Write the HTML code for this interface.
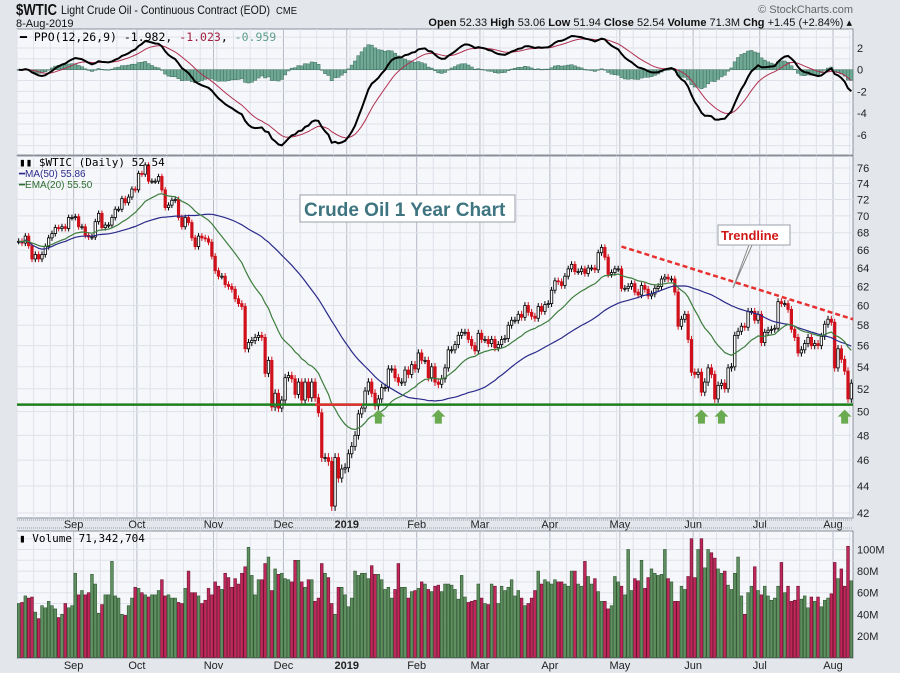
<!DOCTYPE html>
<html><head><meta charset="utf-8">
<style>
body{margin:0;background:#e3e6eb;font-family:"Liberation Sans",sans-serif;}
#wrap{position:relative;width:900px;height:673px;overflow:hidden;background:#e3e6eb;}
svg{position:absolute;left:0;top:0}
</style></head><body>
<div id="wrap">
<svg id="chart" width="900" height="673" xmlns="http://www.w3.org/2000/svg"></svg>
</div>
<script>
// ---- data ----
const closes=[67.0,66.8,67.6,66.5,65.0,65.5,65.0,65.5,66.4,67.4,67.9,68.6,68.5,68.7,68.5,69.8,69.8,
69.9,68.7,68.7,67.7,67.5,67.5,69.3,70.3,68.6,68.9,68.9,69.8,70.8,70.8,72.1,71.6,72.3,73.3,73.2,
75.3,75.2,76.4,74.3,74.3,74.3,74.9,73.2,71.0,71.3,71.9,72.0,69.8,68.7,69.8,69.2,67.4,66.4,67.6,67.4,67.3,66.9,65.3,
63.7,63.1,63.1,62.2,62.0,61.7,60.7,60.2,59.9,55.7,56.3,56.5,56.8,57.0,56.8,53.4,54.6,50.4,51.6,50.3,51.0,
53.0,53.2,52.9,51.5,52.6,51.0,52.6,51.2,52.6,51.2,49.9,46.2,46.2,45.9,42.5,46.2,44.6,45.3,45.4,
46.5,47.1,48.0,49.8,50.3,51.8,52.6,51.6,50.5,51.1,52.1,52.1,53.8,53.8,53.0,52.6,52.6,53.7,53.3,54.2,53.8,
55.3,54.6,54.6,53.0,54.0,52.6,52.4,52.9,53.9,55.6,55.6,56.1,57.0,57.3,57.3,56.6,56.0,55.5,57.2,
56.6,56.6,56.2,56.6,55.8,56.1,56.6,56.7,58.0,58.5,58.5,59.1,58.8,60.0,59.3,58.9,58.7,59.9,59.4,60.1,60.2,
61.6,62.6,62.5,62.1,63.1,63.9,64.4,63.6,63.6,63.9,63.4,64.0,64.0,63.8,65.7,66.3,65.2,63.3,63.5,63.9,63.9,
61.8,61.8,62.0,62.3,61.4,61.1,62.1,61.7,61.0,61.2,61.8,62.0,62.8,63.0,62.8,62.8,61.4,57.9,58.6,59.1,56.6,53.5,
53.3,53.5,51.7,52.6,53.9,53.3,51.1,52.3,52.5,52.0,53.9,54.0,57.0,57.4,57.9,57.8,59.4,59.4,58.5,59.1,
56.3,57.3,57.5,57.6,57.7,60.4,60.2,60.2,59.6,57.6,56.8,55.3,55.6,56.2,56.8,56.0,56.2,56.0,56.9,58.1,58.6,58.3,
53.9,55.7,54.7,53.6,51.1,52.5];
const volumes=[50,51,57,55,56,42,36,48,46,52,48,45,37,40,50,46,48,
78,58,62,58,60,77,68,41,49,58,58,89,57,55,40,39,48,55,65,
64,60,58,56,58,58,62,72,57,58,55,55,51,50,64,80,60,60,57,50,53,64,58,
70,66,63,78,74,65,73,68,78,84,102,76,58,72,72,87,93,62,82,77,78,
73,72,70,90,90,70,65,72,72,52,55,87,78,74,50,40,65,65,58,
47,55,80,76,78,78,73,85,77,77,72,63,65,55,63,87,65,65,55,61,62,
64,70,68,63,61,66,67,61,68,68,67,63,54,76,56,51,52,53,68,
55,50,49,68,66,50,66,62,65,72,57,62,55,48,50,55,62,80,68,72,70,
68,72,70,70,68,66,80,80,68,66,89,75,68,73,61,52,52,45,48,75,70,
66,58,100,62,73,71,90,64,74,82,78,76,77,100,73,70,52,52,66,63,75,110,
74,100,110,83,100,97,92,82,78,80,67,63,78,93,57,40,60,66,84,62,
58,66,57,53,55,66,88,60,66,52,53,66,54,57,46,56,52,56,47,53,55,59,
88,73,82,66,103,71];
const monthLabels=["Sep","Oct","Nov","Dec","2019","Feb","Mar","Apr","May","Jun","Jul","Aug"];
const monthStarts=[17,36,59,80,99,120,139,160,181,203,223,245];
const priceTicks=[42,44,46,48,50,52,54,56,58,60,62,64,66,68,70,72,74,76];
const ppoTicks=[2,0,-2,-4,-6];
const volTicks=[20,40,60,80,100];
const supportLevel=50.6;
const trendStart=[181.5,66.4], trendEnd=[251,58.6];
const arrowIdx=[108,126,205,211,248];

// ---- geometry ----
const X0=17,X1=853,N=closes.length,BW=(X1-X0)/N;
const xI=i=>X0+(i+0.5)*BW;
const LT=Math.log(76),LB=Math.log(42);
const yP=p=>168+(LT-Math.log(p))/(LT-LB)*345;
const yO=v=>69.7-v*10.85;
const yV=v=>657.5-v*1.08;
const svg=document.getElementById('chart');
const NS="http://www.w3.org/2000/svg";
function mk(tag,attrs,parent){const e=document.createElementNS(NS,tag);for(const k in attrs)e.setAttribute(k,attrs[k]);(parent||svg).appendChild(e);return e;}
function tx(str,x,y,attrs,parent){const e=mk('text',Object.assign({x:x,y:y},attrs),parent);e.textContent=str;return e;}

function ema(arr,n){const k=2/(n+1);let r=[],v=arr[0];for(let i=0;i<arr.length;i++){v=i?arr[i]*k+v*(1-k):arr[0];r.push(v);}return r;}
function sma(arr,n){let r=[];for(let i=0;i<arr.length;i++){const s=arr.slice(Math.max(0,i-n+1),i+1);r.push(s.reduce((a,b)=>a+b,0)/s.length);}return r;}
const e12=ema(closes,12),e26=ema(closes,26);
const ppo=closes.map((c,i)=>(e12[i]-e26[i])/e26[i]*100);
const sig=ema(ppo,9);
const ma50=sma(closes,50),ema20=ema(closes,20);

// ---- panels ----
const panels=[[29,155,'ppo-panel'],[156,518,'price-panel'],[531,658,'volume-panel']];
panels.forEach(p=>{const r=mk('rect',{x:X0,y:p[0],width:X1-X0,height:p[1]-p[0],fill:'#f6f7fb',stroke:'#8a8f99','stroke-width':1});

});
for(let p of panels){
 for(let i=0;i<N;i+=5){const l=mk('line',{x1:X0+i*BW,x2:X0+i*BW,y1:p[0],y2:p[1],stroke:'#dfe2ea','stroke-width':1});
 
 }
 monthStarts.forEach(m=>{const l=mk('line',{x1:X0+m*BW,x2:X0+m*BW,y1:p[0],y2:p[1],stroke:'#b8bcc6','stroke-width':1});
 
 });
}
priceTicks.forEach(t=>{const l=mk('line',{x1:X0,x2:X1,y1:yP(t),y2:yP(t),stroke:'#dfe2ea'});


const lb=tx(String(t),857,yP(t)+4,{'font-size':11,fill:'#222'});

});
[3,2,1,0,-1,-2,-3,-4,-5,-6,-7].forEach(t=>{const l=mk('line',{x1:X0,x2:X1,y1:yO(t),y2:yO(t),stroke:'#dfe2ea'});

});
ppoTicks.forEach(t=>{const lb=tx(String(t),857,yO(t)+4,{'font-size':11,fill:'#222'});

});
[10,20,30,40,50,60,70,80,90,100,110].forEach(t=>{const l=mk('line',{x1:X0,x2:X1,y1:yV(t),y2:yV(t),stroke:'#dfe2ea'});

});
volTicks.forEach(t=>{const lb=tx(t+'M',857,yV(t)+4,{'font-size':11,fill:'#222'});

});
monthLabels.forEach((m,k)=>{[524,665].forEach(yy=>{const lb=tx(m,X0+monthStarts[k]*BW,yy+4,{'font-size':11,'text-anchor':'middle',fill:'#222','font-weight':m==='2019'?'bold':'normal'});

});});
[520,528].forEach(yy=>{const l=mk('line',{x1:X0,x2:X1,y1:yy,y2:yy,stroke:'#9aa0aa','stroke-dasharray':'1,1'});

});

// ---- PPO ----
for(let i=0;i<N;i++){const h=ppo[i]-sig[i];const y1=yO(0),y2=yO(h);
 const b=mk('rect',{x:xI(i)-BW/2,y:Math.min(y1,y2),width:BW,height:Math.max(0.5,Math.abs(y2-y1)),fill:'#6fa894',stroke:'#3f6f5e','stroke-width':0.5});
 
 }
function pline(arr,yf,color,w,name){const d=arr.map((v,i)=>(i?'L':'M')+xI(i).toFixed(1)+','+yf(v).toFixed(1)).join('');
 const p=mk('path',{d:d,fill:'none',stroke:color,'stroke-width':w});
 
 }
pline(sig,yO,'#b03050',1,'ppo-signal-line');
pline(ppo,yO,'#000',2,'ppo-line');

// ---- Price ----
for(let i=0;i<N;i++){const c=closes[i],o=i?closes[i-1]:c;const up=c>=o;const col=up?'#000':'#d0101a';
 const hi=Math.max(o,c)+0.35,lo=Math.min(o,c)-0.35;
 const w=mk('line',{x1:xI(i),x2:xI(i),y1:yP(hi),y2:yP(lo),stroke:col,'stroke-width':1});
 
 
 const top=yP(Math.max(o,c)),bot=yP(Math.min(o,c));
 const b=mk('rect',{x:xI(i)-1.2,y:top,width:2.4,height:Math.max(1,bot-top),fill:up?'#fff':'#d0101a',stroke:col,'stroke-width':0.8});
 
 }
pline(ma50,yP,'#2a2a8a',1.2,'ma50-line');
pline(ema20,yP,'#3d7d3d',1.2,'ema20-line');
const sl=mk('line',{x1:X0,x2:X1,y1:yP(supportLevel),y2:yP(supportLevel),stroke:'#1e7f1e','stroke-width':2.5});


const rs=mk('line',{x1:315,x2:362,y1:yP(supportLevel),y2:yP(supportLevel),stroke:'#e03030','stroke-width':2.5});


const tl=mk('line',{x1:X0+trendStart[0]*BW,y1:yP(trendStart[1]),x2:X0+trendEnd[0]*BW,y2:yP(trendEnd[1]),stroke:'#e83030','stroke-width':2.5,'stroke-dasharray':'5,3'});


arrowIdx.forEach(i=>{const x=xI(i),y=yP(supportLevel)+5;
 const a=mk('polygon',{points:`${x},${y} ${x+7},${y+7} ${x+3.5},${y+7} ${x+3.5},${y+14} ${x-3.5},${y+14} ${x-3.5},${y+7} ${x-7},${y+7}`,fill:'#6aaa50'});
 
 });
const tb=mk('rect',{x:300,y:195,width:215,height:27,fill:'#fff',stroke:'#9aa0aa'});


const tt=tx('Crude Oil 1 Year Chart',304,216,{'font-size':19,'font-weight':'bold',fill:'#3e7580'});


const co=mk('path',{d:'M749,245 L733,288 L752,245 Z',fill:'#fff',stroke:'#888'});


const cb=mk('rect',{x:718,y:225,width:72,height:20,fill:'#fff',stroke:'#9aa0aa'});


const ct=tx('Trendline',721,240,{'font-size':13,'font-weight':'bold',fill:'#d01818'});



// ---- Volume ----
for(let i=0;i<N;i++){const down=i&&closes[i]<closes[i-1];
 const b=mk('rect',{x:xI(i)-BW/2+0.3,y:yV(volumes[i]),width:BW-0.6,height:657.5-yV(volumes[i]),fill:down?'#c0285a':'#5f9060',stroke:down?'#6a1030':'#2f5530','stroke-width':0.6});
 
 }

// ---- text headers ----
const h1=tx('$WTIC',16,15,{'font-size':16,'font-weight':'bold',fill:'#111',textLength:41,lengthAdjust:'spacingAndGlyphs'});


const h2=tx('Light Crude Oil - Continuous Contract (EOD)',61,14,{'font-size':12,fill:'#111',textLength:209,lengthAdjust:'spacingAndGlyphs'});


const h3=tx('CME',276,14,{'font-size':10,fill:'#111',textLength:21,lengthAdjust:'spacingAndGlyphs'});


const h4=tx('8-Aug-2019',16,27,{'font-size':11,fill:'#111'});


const q=mk('text',{x:852,y:26,'font-size':11,'text-anchor':'end',fill:'#111'});
q.innerHTML='<tspan font-weight="bold">Open</tspan> 52.33 <tspan font-weight="bold">High</tspan> 53.06 <tspan font-weight="bold">Low</tspan> 51.94 <tspan font-weight="bold">Close</tspan> 52.54 <tspan font-weight="bold">Volume</tspan> 71.3M <tspan font-weight="bold">Chg</tspan> +1.45 (+2.84%) ▴';


const sc=tx('© StockCharts.com',853,13,{'font-size':11,'text-anchor':'end',fill:'#666'});


const lp=mk('text',{x:20,y:41,'font-size':11.5,'font-family':'DejaVu Sans Mono, monospace',fill:'#000'});
lp.innerHTML='<tspan font-weight="bold">━</tspan> PPO(12,26,9) -1.982, <tspan fill="#a02040">-1.023</tspan>, <tspan fill="#5e9e88">-0.959</tspan>';


const l1=tx('▮▮ $WTIC (Daily) 52.54',19,166,{'font-size':11,'font-family':'DejaVu Sans Mono, monospace',fill:'#000'});


const l2=tx('━MA(50) 55.86',19,177,{'font-size':10,fill:'#2a2a8a'});


const l3=tx('━EMA(20) 55.50',19,188,{'font-size':10,fill:'#2d6d2d'});


const l4=tx('▮ Volume 71,342,704',19,542,{'font-size':11,'font-family':'DejaVu Sans Mono, monospace',fill:'#000'});


</script>
</body></html>
